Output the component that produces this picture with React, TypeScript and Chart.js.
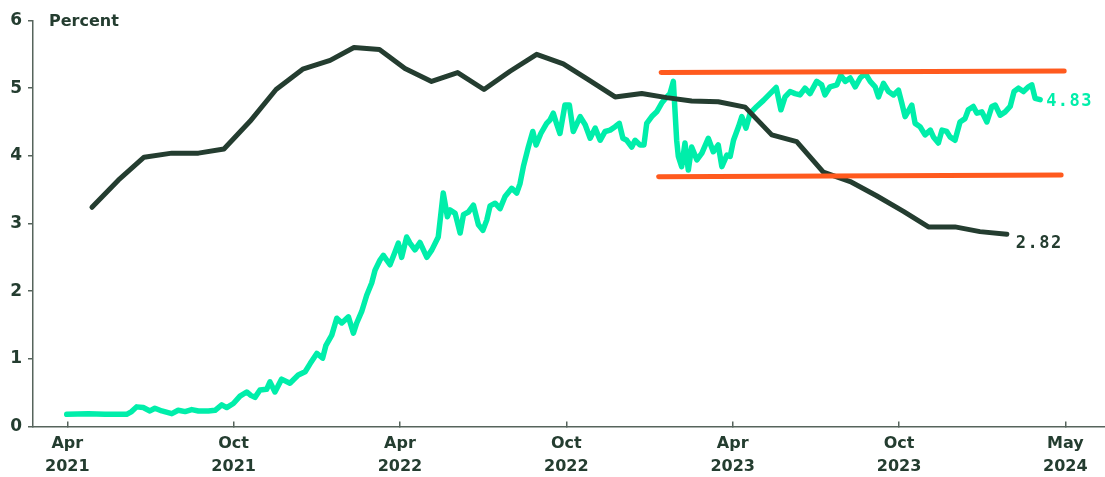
import React, { useEffect, useRef } from "react";
import { Chart, registerables } from "chart.js";

Chart.register(...registerables);

// Months since April 2021
const xTickValues = [0, 6, 12, 18, 24, 30, 36];
const xTickLabels = [
  ["Apr", "2021"],
  ["Oct", "2021"],
  ["Apr", "2022"],
  ["Oct", "2022"],
  ["Apr", "2023"],
  ["Oct", "2023"],
  ["May", "2024"],
];
const yTickValues = [0, 1, 2, 3, 4, 5, 6];

const coreMonths = [
  0.89, 1.84, 2.77, 3.77, 4.73, 5.65, 6.59, 7.53, 8.49, 9.48, 10.34, 11.26,
  12.18, 13.14, 14.08, 15.03, 15.97, 16.93, 17.89, 18.82, 19.76, 20.72, 21.62,
  22.52, 23.48, 24.45, 25.41, 26.31, 27.27, 28.24, 29.19, 30.16, 31.06, 32.02,
  32.92, 33.89,
];
const coreValues = [
  3.24, 3.64, 3.98, 4.04, 4.04, 4.1, 4.51, 4.98, 5.28, 5.41, 5.6, 5.57, 5.29,
  5.1, 5.23, 4.98, 5.25, 5.5, 5.36, 5.12, 4.87, 4.92, 4.86, 4.81, 4.8, 4.72,
  4.31, 4.21, 3.76, 3.62, 3.41, 3.18, 2.95, 2.95, 2.88, 2.84,
];

const yieldMonths = [
  -0.02, 0.76, 1.36, 2.14, 2.32, 2.5, 2.74, 2.98, 3.16, 3.41, 3.77, 4.0, 4.25,
  4.49, 4.73, 5.09, 5.33, 5.57, 5.75, 5.99, 6.23, 6.47, 6.62, 6.77, 6.95, 7.19,
  7.31, 7.49, 7.73, 8.03, 8.33, 8.58, 8.76, 9.0, 9.21, 9.33, 9.54, 9.72, 9.9,
  10.14, 10.32, 10.44, 10.62, 10.8, 10.98, 11.1, 11.28, 11.4, 11.64, 11.82,
  11.94, 12.06, 12.24, 12.36, 12.54, 12.72, 12.97, 13.15, 13.38, 13.56, 13.71,
  13.81, 13.99, 14.17, 14.29, 14.47, 14.65, 14.83, 14.99, 15.13, 15.25, 15.43,
  15.61, 15.79, 16.03, 16.21, 16.33, 16.45, 16.63, 16.79, 16.91, 17.08, 17.29,
  17.41, 17.53, 17.66, 17.77, 17.95, 18.11, 18.25, 18.5, 18.68, 18.86, 19.04,
  19.22, 19.4, 19.58, 19.76, 19.91, 20.04, 20.18, 20.36, 20.48, 20.66, 20.8,
  20.9, 21.08, 21.26, 21.44, 21.62, 21.74, 21.86, 21.98, 22.04, 22.16, 22.28,
  22.4, 22.52, 22.71, 22.89, 23.12, 23.3, 23.48, 23.61, 23.79, 23.91, 24.03,
  24.21, 24.33, 24.48, 24.63, 24.87, 25.11, 25.35, 25.57, 25.74, 25.89, 26.07,
  26.25, 26.43, 26.61, 26.79, 27.03, 27.21, 27.33, 27.51, 27.76, 27.9, 28.06,
  28.24, 28.42, 28.6, 28.78, 28.96, 29.14, 29.26, 29.44, 29.62, 29.8, 29.98,
  30.1, 30.22, 30.46, 30.58, 30.76, 30.94, 31.13, 31.24, 31.42, 31.55, 31.72,
  31.84, 32.02, 32.2, 32.38, 32.5, 32.68, 32.81, 32.99, 33.17, 33.35, 33.47,
  33.65, 33.83, 34.01, 34.15, 34.31, 34.49, 34.67, 34.79, 34.91, 35.09,
];
const yieldValues = [
  0.18, 0.19, 0.18, 0.18, 0.22, 0.29, 0.28, 0.23, 0.27, 0.23, 0.19, 0.24, 0.22,
  0.25, 0.23, 0.23, 0.24, 0.32, 0.28, 0.34, 0.45, 0.51, 0.46, 0.43, 0.54, 0.55,
  0.66, 0.51, 0.7, 0.64, 0.76, 0.81, 0.93, 1.08, 1.01, 1.2, 1.35, 1.6, 1.53,
  1.62, 1.38, 1.53, 1.7, 1.94, 2.12, 2.31, 2.46, 2.53, 2.39, 2.58, 2.71, 2.5,
  2.8, 2.71, 2.61, 2.72, 2.5, 2.61, 2.8, 3.45, 3.1, 3.2, 3.15, 2.86, 3.13, 3.17,
  3.27, 2.98, 2.9, 3.05, 3.26, 3.3, 3.22, 3.4, 3.52, 3.45, 3.59, 3.84, 4.13,
  4.36, 4.16, 4.33, 4.48, 4.53, 4.63, 4.46, 4.33, 4.75, 4.75, 4.36, 4.58, 4.46,
  4.26, 4.41, 4.23, 4.36, 4.38, 4.43, 4.48, 4.26, 4.23, 4.13, 4.23, 4.16, 4.16,
  4.48, 4.58, 4.65, 4.78, 4.87, 4.92, 5.1, 4.23, 3.99, 3.84, 4.19, 3.79, 4.13,
  3.94, 4.04, 4.26, 4.06, 4.16, 3.84, 4.01, 3.99, 4.23, 4.43, 4.58, 4.41, 4.63,
  4.73, 4.82, 4.92, 5.01, 4.68, 4.87, 4.95, 4.92, 4.9, 5.0, 4.92, 5.1, 5.05,
  4.9, 5.02, 5.05, 5.19, 5.1, 5.15, 5.02, 5.15, 5.22, 5.1, 5.02, 4.87, 5.07,
  4.95, 4.9, 4.97, 4.78, 4.58, 4.75, 4.48, 4.43, 4.31, 4.38, 4.28, 4.19, 4.38,
  4.36, 4.28, 4.23, 4.5, 4.55, 4.68, 4.73, 4.63, 4.65, 4.5, 4.73, 4.75, 4.6,
  4.65, 4.73, 4.95, 5.0, 4.95, 5.02, 5.05, 4.85, 4.83,
];

const rangeTopMonths = [21.42, 35.96];
const rangeTopValues = [5.23, 5.255];
const rangeBottomMonths = [21.33, 35.85];
const rangeBottomValues = [3.69, 3.717];

const yieldEndLabel = "4.83";
const coreEndLabel = "2.82";
const unitLabel = "Percent";

const DARK = "#243d30";
const MINT = "#00eeaa";
const ORANGE = "#ff5a1e";
const AXIS = "#56645c";

const toPoints = (xs: number[], ys: number[]) =>
  xs.map((x, i) => ({ x, y: ys[i] }));

const lineStyle = {
  pointRadius: 0,
  pointHoverRadius: 0,
  tension: 0,
  fill: false,
  borderCapStyle: "round" as const,
  borderJoinStyle: "round" as const,
};

const annotatePlugin = {
  id: "annotate",
  afterDatasetsDraw(chart: any) {
    const { ctx } = chart;
    const x = chart.scales.x;
    const y = chart.scales.y;
    ctx.save();
    ctx.font = 'bold 16px "DejaVu Sans"';
    ctx.fillStyle = DARK;
    ctx.textAlign = "left";
    ctx.textBaseline = "alphabetic";
    ctx.fillText(unitLabel, 49, 26);

    ctx.font = 'bold 17px "DejaVu Sans Mono"';
    try {
      (ctx as any).letterSpacing = "1.5px";
    } catch (e) {}
    ctx.textBaseline = "middle";
    const ly = yieldMonths.length - 1;
    ctx.fillStyle = MINT;
    ctx.fillText(
      yieldEndLabel,
      x.getPixelForValue(yieldMonths[ly]) + 6,
      y.getPixelForValue(yieldValues[ly]) + 1.5
    );
    const lc = coreMonths.length - 1;
    ctx.fillStyle = DARK;
    ctx.fillText(
      coreEndLabel,
      x.getPixelForValue(coreMonths[lc]) + 9,
      y.getPixelForValue(coreValues[lc]) + 9.5
    );
    ctx.restore();
  },
};

export default function App() {
  const ref = useRef<HTMLCanvasElement>(null);

  useEffect(() => {
    if (!ref.current) return;
    const chart = new Chart(ref.current, {
      type: "line",
      data: {
        datasets: [
          {
            label: "Range top",
            data: toPoints(rangeTopMonths, rangeTopValues),
            borderColor: ORANGE,
            borderWidth: 5,
            ...lineStyle,
          },
          {
            label: "Range bottom",
            data: toPoints(rangeBottomMonths, rangeBottomValues),
            borderColor: ORANGE,
            borderWidth: 5,
            ...lineStyle,
          },
          {
            label: "Core",
            data: toPoints(coreMonths, coreValues),
            borderColor: DARK,
            borderWidth: 5,
            ...lineStyle,
          },
          {
            label: "Yield",
            data: toPoints(yieldMonths, yieldValues),
            borderColor: MINT,
            borderWidth: 5.5,
            ...lineStyle,
          },
        ],
      },
      options: {
        animation: false,
        responsive: false,
        devicePixelRatio: 1,
        layout: { padding: { top: 20.5, right: 0, bottom: 0, left: 0 } },
        plugins: {
          legend: { display: false },
          tooltip: { enabled: false },
        },
        scales: {
          x: {
            type: "linear",
            min: -1.237,
            max: 37.43,
            afterBuildTicks: (axis: any) => {
              axis.ticks = xTickValues.map((v) => ({ value: v }));
            },
            afterFit: (axis: any) => {
              axis.height = 50.5;
            },
            grid: {
              display: true,
              drawOnChartArea: false,
              drawTicks: true,
              tickLength: -5,
              color: AXIS,
              lineWidth: 1.5,
            },
            border: { display: true, color: AXIS, width: 1.5 },
            ticks: {
              autoSkip: false,
              maxRotation: 0,
              minRotation: 0,
              padding: 11,
              color: DARK,
              font: {
                family: '"DejaVu Sans"',
                size: 16,
                weight: "bold",
                lineHeight: 1.45,
              },
              callback: (_v: any, i: number) => xTickLabels[i],
            },
          },
          y: {
            type: "linear",
            min: 0,
            max: 6,
            afterBuildTicks: (axis: any) => {
              axis.ticks = yTickValues.map((v) => ({ value: v }));
            },
            afterFit: (axis: any) => {
              axis.width = 33;
            },
            grid: {
              display: true,
              drawOnChartArea: false,
              drawTicks: true,
              tickLength: 5,
              color: AXIS,
              lineWidth: 1.5,
            },
            border: { display: true, color: AXIS, width: 1.5 },
            ticks: {
              padding: 6,
              color: DARK,
              font: { family: '"DejaVu Sans"', size: 17, weight: "bold" },
              callback: (v: any) => String(v),
            },
          },
        },
      },
      plugins: [annotatePlugin],
    });
    return () => chart.destroy();
  }, []);

  return (
    <div
      style={{
        position: "absolute",
        left: 0,
        top: 0,
        width: 1105,
        height: 477,
        background: "#ffffff",
      }}
    >
      <canvas
        ref={ref}
        width={1105}
        height={477}
        style={{ display: "block", width: 1105, height: 477 }}
      />
    </div>
  );
}
